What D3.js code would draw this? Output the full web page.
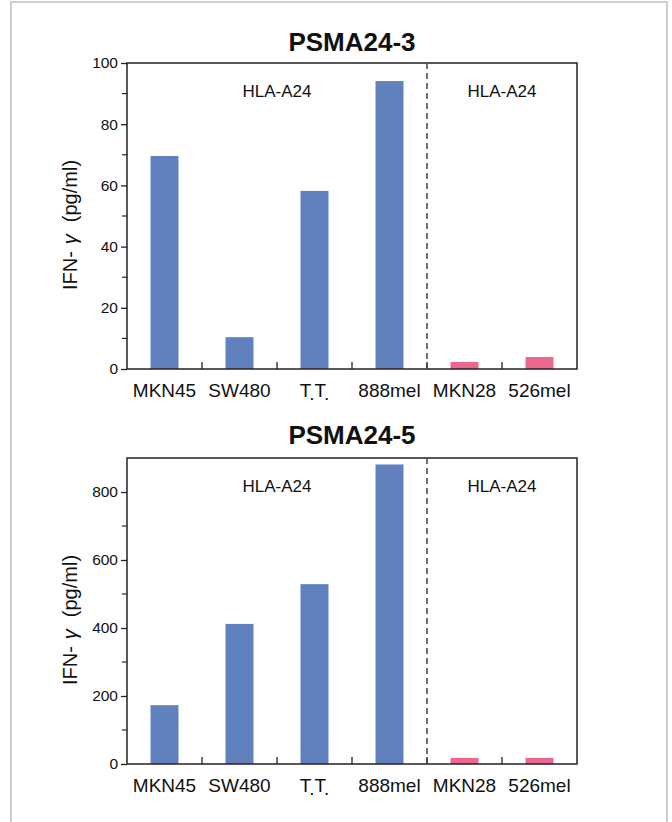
<!DOCTYPE html>
<html>
<head>
<meta charset="utf-8">
<script src="https://cdn.jsdelivr.net/npm/d3@7"></script>
<style>
  html, body { margin: 0; padding: 0; background: #fff; }
  svg { display: block; font-family: "Liberation Sans", Arial, Helvetica, sans-serif; }
</style>
</head>
<body>
<svg id="chart" width="672" height="822"></svg>
<script>
// ---- data ----
const categories = ["MKN45", "SW480", "T.T.", "888mel", "MKN28", "526mel"];
const groups = ["A24", "A24", "A24", "A24", "ctrl", "ctrl"];
const psma24_3 = [69.6, 10.4, 58.2, 94.1, 2.3, 3.9];
const psma24_5 = [173, 412, 529, 881, 18, 18];
const ticks3 = [0, 20, 40, 60, 80, 100];
const minor3 = [10, 30, 50, 70, 90];
const ticks5 = [0, 200, 400, 600, 800];
const minor5 = [100, 300, 500, 700];
const panelTitles = ["PSMA24-3", "PSMA24-5"];
const regionLabels = ["HLA-A24", "HLA-A24"];

const colors = { A24: "#6181be", ctrl: "#ec678d" };
const svg = d3.select("#chart");

// outer light frame
svg.append("rect").attr("x", 11).attr("y", 2).attr("width", 656).attr("height", 860)
  .attr("fill", "none").attr("stroke", "#cfcfcf").attr("stroke-width", 2);

const left = 127, right = 577;
const x = d3.scaleBand().domain(categories).range([left, right])
  .paddingInner(0.627).paddingOuter(0.3135);
const cellStep = x.step();

function panel(opts) {
  const { top, bottom, values, domainMax, majors, minors, title, titleY } = opts;
  const y = d3.scaleLinear().domain([0, domainMax]).range([bottom, top]);
  const g = svg.append("g");

  // title
  g.append("text").attr("x", 352).attr("y", titleY).attr("text-anchor", "middle")
    .attr("font-size", 26).attr("font-weight", "bold").attr("fill", "#111").text(title);

  // bars
  g.selectAll("rect.bar").data(categories).join("rect").attr("class", "bar")
    .attr("x", d => x(d)).attr("width", x.bandwidth())
    .attr("y", (d, i) => y(values[i])).attr("height", (d, i) => y(0) - y(values[i]))
    .attr("fill", (d, i) => colors[groups[i]]);

  // y axis (major)
  const yAxis = d3.axisLeft(y).tickValues(majors).tickSize(6).tickPadding(3).tickSizeOuter(0);
  const ya = g.append("g").attr("transform", `translate(${left},0)`).call(yAxis);
  ya.select(".domain").remove();
  ya.selectAll("line").attr("stroke", "#222").attr("stroke-width", 1.3);
  ya.selectAll("text").attr("font-size", 15.5).attr("fill", "#111")
    .attr("font-family", "Liberation Sans, Arial, sans-serif");
  // minor ticks
  g.selectAll("line.minor").data(minors).join("line").attr("class", "minor")
    .attr("x1", left - 5).attr("x2", left).attr("y1", d => y(d)).attr("y2", d => y(d))
    .attr("stroke", "#222").attr("stroke-width", 1.2);

  // frame
  g.append("rect").attr("x", left).attr("y", top).attr("width", right - left).attr("height", bottom - top)
    .attr("fill", "none").attr("stroke", "#222").attr("stroke-width", 1.5);

  // x ticks inside at cell boundaries
  const bounds = categories.slice(1).map(c => x(c) + x.bandwidth() / 2 - cellStep / 2);
  g.selectAll("line.xt").data(bounds).join("line").attr("class", "xt")
    .attr("x1", d => d).attr("x2", d => d).attr("y1", bottom).attr("y2", bottom - 7)
    .attr("stroke", "#222").attr("stroke-width", 1.3);

  // dashed separator between 888mel and MKN28
  const sep = x("MKN28") + x.bandwidth() / 2 - cellStep / 2;
  g.append("line").attr("x1", sep).attr("x2", sep).attr("y1", top).attr("y2", bottom)
    .attr("stroke", "#444").attr("stroke-width", 1.5).attr("stroke-dasharray", "6,4");

  // region labels
  g.append("text").attr("x", (left + sep) / 2).attr("y", top + 34).attr("text-anchor", "middle")
    .attr("font-size", 17).attr("fill", "#111").text(regionLabels[0]);
  g.append("text").attr("x", (sep + right) / 2).attr("y", top + 34).attr("text-anchor", "middle")
    .attr("font-size", 17).attr("fill", "#111").text(regionLabels[1]);

  // category labels
  categories.forEach(c => {
    const t = g.append("text").attr("x", x(c) + x.bandwidth() / 2).attr("y", bottom + 28)
      .attr("text-anchor", "middle").attr("font-size", 19).attr("fill", "#111");
    if (c === "T.T.") {
      t.append("tspan").text("T");
      t.append("tspan").attr("dy", 3).text(".");
      t.append("tspan").attr("dy", -3).text("T");
      t.append("tspan").attr("dy", 3).text(".");
    } else {
      t.text(c);
    }
  });

  // y label
  const cy = (top + bottom) / 2 + 9;
  const yl = g.append("text").attr("transform", `translate(77,${cy}) rotate(-90)`)
    .attr("text-anchor", "middle").attr("font-size", 20).attr("fill", "#111");
  yl.append("tspan").text("IFN-");
  yl.append("tspan").attr("dx", 7).attr("font-style", "italic").text("γ");
  yl.append("tspan").attr("dx", 12).text("(pg/ml)");
}

panel({ top: 63, bottom: 369, values: psma24_3, domainMax: 100, majors: ticks3, minors: minor3,
        title: panelTitles[0], titleY: 51 });
panel({ top: 458, bottom: 764, values: psma24_5, domainMax: 900, majors: ticks5, minors: minor5,
        title: panelTitles[1], titleY: 444 });
</script>
</body>
</html>
